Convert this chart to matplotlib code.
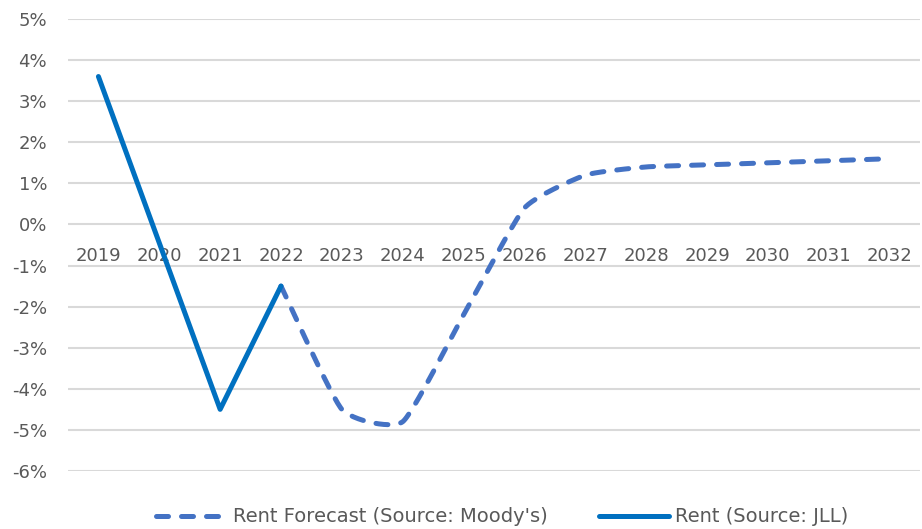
import numpy as np
import matplotlib.pyplot as plt
from matplotlib.ticker import FuncFormatter

# 연도별 임대료 변화율 (%)
years = ['2019', '2020', '2021', '2022', '2023', '2024', '2025',
         '2026', '2027', '2028', '2029', '2030', '2031', '2032']
rent_jll = [3.6, -0.45, -4.5, -1.5]                      # 2019~2022 실적
rent_moodys = [-1.5, -4.5, -4.8, -2.2, 0.4, 1.2, 1.4, 1.45, 1.5, 1.55, 1.6]  # 2022~2032 전망

GRID = '#D9D9D9'
TEXT = '#595959'


def smooth(x, y, k=1 / 12, n=30):
    # 엑셀 '곡선' 옵션처럼 베지어 보간 (k: 곡률 세기)
    x = np.asarray(x, float)
    y = np.asarray(y, float)
    px = np.concatenate([[x[0]], x, [x[-1]]])
    py = np.concatenate([[y[0]], y, [y[-1]]])
    xs, ys = [], []
    t = np.linspace(0, 1, n)[:, None]
    for i in range(1, len(px) - 2):
        p0 = np.array([px[i], py[i]])
        p3 = np.array([px[i + 1], py[i + 1]])
        c1 = p0 + (np.array([px[i + 1], py[i + 1]]) - np.array([px[i - 1], py[i - 1]])) * k
        c2 = p3 - (np.array([px[i + 2], py[i + 2]]) - np.array([px[i], py[i]])) * k
        b = (1 - t) ** 3 * p0 + 3 * (1 - t) ** 2 * t * c1 + 3 * (1 - t) * t ** 2 * c2 + t ** 3 * p3
        xs.extend(b[:, 0])
        ys.extend(b[:, 1])
    return np.array(xs), np.array(ys)


fig = plt.figure(figsize=(9.22, 5.29), dpi=100)
ax = fig.add_axes([68 / 922, 1 - 471 / 529, 852 / 922, 452 / 529])

x_all = np.arange(len(years))
x_fc = np.arange(3, len(years))

sx, sy = smooth(x_fc, rent_moodys)
ax.plot(sx, sy, color='#4472C4', lw=3.6, dashes=(2.4, 2.6),
        dash_capstyle='round', solid_capstyle='round',
        label="Rent Forecast (Source: Moody's)", zorder=3)
ax.plot(x_all[:4], rent_jll, color='#0070C0', lw=3.6,
        solid_capstyle='round', solid_joinstyle='round',
        label='Rent (Source: JLL)', zorder=4)

ax.set_xlim(-0.5, len(years) - 0.5)
ax.set_ylim(-6, 5)
ax.set_yticks(range(-6, 6))
ax.yaxis.set_major_formatter(FuncFormatter(lambda v, p: f'{v:.0f}%'))
ax.set_xticks(x_all)
ax.set_xticklabels(years)

ax.grid(axis='y', color=GRID, lw=1.5)
ax.set_axisbelow(True)
for s in ax.spines.values():
    s.set_visible(False)
ax.spines['bottom'].set_position(('data', 0))
ax.tick_params(axis='x', length=0, pad=16, labelsize=13, labelcolor=TEXT)
ax.tick_params(axis='y', length=0, pad=15, labelsize=13, labelcolor=TEXT)

fig.legend(loc='center', bbox_to_anchor=(0.545, 1 - 517 / 529), ncol=2, frameon=False,
           fontsize=14, labelcolor=TEXT, handlelength=3.6, handletextpad=0.35,
           columnspacing=2.6)

fig.savefig('out.png', dpi=100)
